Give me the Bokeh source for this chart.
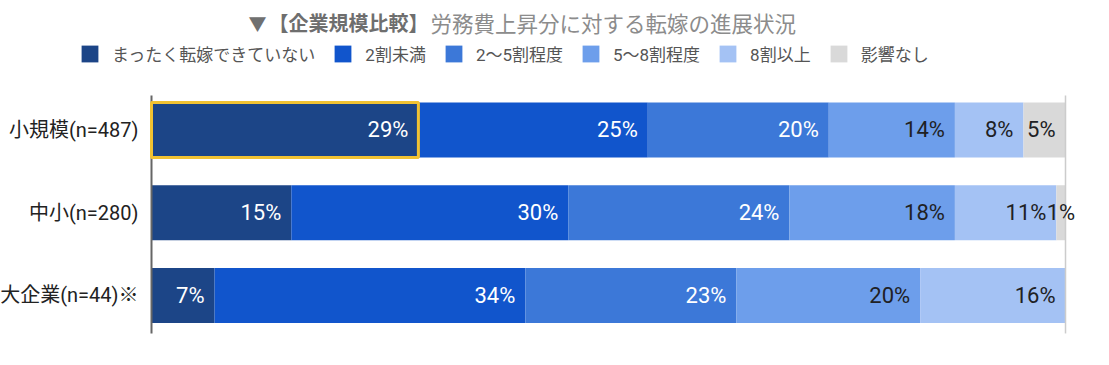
from bokeh.plotting import figure
from bokeh.models import ColumnDataSource, Range1d, Label
from bokeh.core.properties import value
from bokeh.embed import file_html
from bokeh.resources import INLINE

# ---------------- data ----------------
categories = ["小規模(n=487)", "中小(n=280)", "大企業(n=44)※"]
series = ["まったく転嫁できていない", "2割未満", "2～5割程度", "5～8割程度", "8割以上", "影響なし"]
none_at_all = [29.2, 15.3, 6.9]
under_20 = [25.1, 30.3, 34.0]
pct_20_50 = [19.8, 24.2, 23.1]
pct_50_80 = [13.8, 18.1, 20.1]
over_80 = [7.5, 11.1, 15.9]
no_effect = [4.6, 1.0, 0.0]
title_mark = "▼"
title_bold = "【企業規模比較】"
title_rest = "労務費上昇分に対する転嫁の進展状況"

# ---------------- style ----------------
colors = ["#1c4587", "#1155cc", "#3c78d8", "#6d9eeb", "#a4c2f4", "#d9d9d9"]
label_colors = ["#ffffff", "#ffffff", "#ffffff", "#202124", "#202124", "#202124"]
FONT = "Roboto, 'Noto Sans CJK JP', sans-serif"
CJK = "'Noto Sans CJK JP', sans-serif"
BAR_H = 0.665
W, H = 1100, 350

series_values = [none_at_all, under_20, pct_20_50, pct_50_80, over_80, no_effect]
keys = ["s%d" % i for i in range(len(series))]
ypos = list(range(len(categories)))
data = {"y": ypos}
for k, vals in zip(keys, series_values):
    data[k] = vals
source = ColumnDataSource(data)

# the frame covers the whole canvas; x: 0% at 151px, 100% at 1065px
p = figure(width=W, height=H, output_backend="svg", toolbar_location=None,
           x_range=Range1d(-16.521, 103.829), y_range=Range1d(2.665, -1.565),
           min_border=0, x_axis_type=None, y_axis_type=None)
p.outline_line_color = None
p.background_fill_color = "white"
p.border_fill_color = "white"
p.grid.visible = False

p.hbar_stack(keys, y="y", height=BAR_H, color=colors, source=source,
             legend_label=series, line_width=0)

top = ypos[0] - 0.417
bottom = ypos[-1] + 0.459
# category axis line and right reference line
p.segment(x0=[0], y0=[top], x1=[0], y1=[bottom], line_color="#666666", line_width=2)
p.segment(x0=[100], y0=[top], x1=[100], y1=[bottom], line_color="#cccccc", line_width=1.5)

# category labels
p.text(x=[0] * len(categories), y=ypos, text=categories, text_align="right",
       text_baseline="middle", x_offset=-13, text_font=value(FONT),
       text_font_size="20px", text_color="#222222")

# value labels
rx, ry, rt, rc = [], [], [], []
cx, cy, ct, cc = [], [], [], []
for r in ypos:
    cum = 0.0
    for si, vals in enumerate(series_values):
        v = vals[r]
        start, cum = cum, cum + v
        if v <= 0:
            continue
        txt = "%d%%" % round(v)
        if v < 3:
            cx.append((start + cum) / 2); cy.append(r); ct.append(txt); cc.append(label_colors[si])
        else:
            rx.append(cum); ry.append(r); rt.append(txt); rc.append(label_colors[si])

p.text(x=rx, y=ry, text=rt, text_color=rc, text_align="right", text_baseline="middle",
       x_offset=-10, text_font=value(FONT), text_font_size="22px")
p.text(x=cx, y=cy, text=ct, text_color=cc, text_align="center", text_baseline="middle",
       text_font=value(FONT), text_font_size="22px")

# highlight of the first segment of the first row
p.quad(left=[0], right=[none_at_all[0]], bottom=[ypos[0] + BAR_H / 2], top=[ypos[0] - BAR_H / 2],
       fill_color=None, line_color="#f1c232", line_width=3)

# title (screen units from the canvas bottom-left)
ty = H - 22
p.add_layout(Label(x=248, y=ty, x_units="screen", y_units="screen", text=title_mark,
                   text_font=CJK, text_font_size="18px", text_color="#707070",
                   text_baseline="middle"))
p.add_layout(Label(x=268, y=ty, x_units="screen", y_units="screen", text=title_bold,
                   text_font=CJK, text_font_size="20px", text_color="#6e6e6e",
                   text_font_style="bold", text_baseline="middle"))
p.add_layout(Label(x=430, y=ty, x_units="screen", y_units="screen", text=title_rest,
                   text_font=CJK, text_font_size="21.5px", text_color="#8c8c8c",
                   text_baseline="middle"))

# legend (location = bottom-left corner, from the canvas bottom-left)
lg = p.legend[0]
lg.orientation = "horizontal"
lg.location = (79, H - 66)
lg.padding = 0
lg.margin = 0
lg.spacing = 17
lg.glyph_width = 21
lg.glyph_height = 21
lg.label_standoff = 12
lg.label_height = 21
lg.label_text_font = FONT
lg.label_text_font_size = "17px"
lg.label_text_color = "#555555"
lg.border_line_color = None
lg.background_fill_alpha = 0

open("out.html", "w").write(file_html(p, INLINE))
